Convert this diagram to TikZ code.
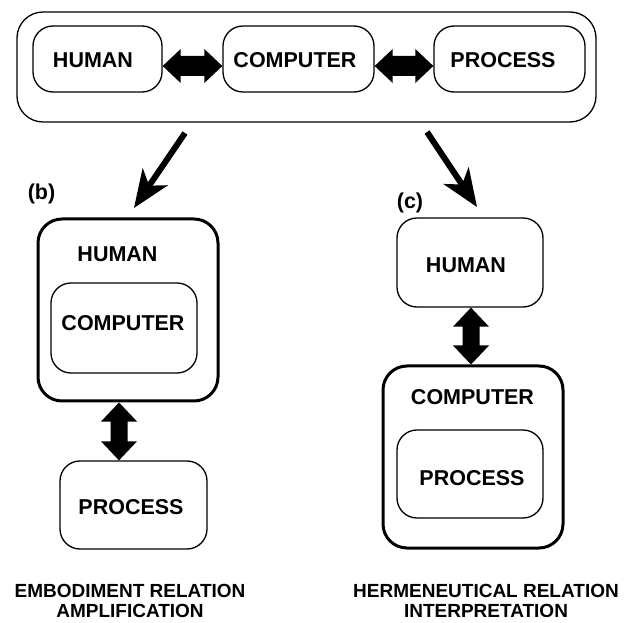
\documentclass[tikz,border=0pt]{standalone}
\usepackage{fontspec}
\setmainfont{Liberation Sans}
\usetikzlibrary{calc}
\tikzset{
  box/.style={draw, line width=1.3pt, rounded corners=20pt, inner sep=0pt},
  thickbox/.style={draw, line width=3pt, rounded corners=24pt, inner sep=0pt},
  lbl/.style={font=\bfseries\fontsize{21.5}{24}\selectfont, inner sep=0pt},
  captext/.style={font=\bfseries\fontsize{19}{20}\selectfont, align=center, inner sep=0pt},
}
% horizontal double arrow between #1.east and #2.west, lowered by #3
\newcommand{\hdbl}[3]{%
  \fill let \p1=(#1.east), \p2=(#2.west) in
    (\x1,\y1-#3) -- (\x1+18pt,\y1-#3+17pt) -- (\x1+18pt,\y1-#3+10pt) -- (\x2-18pt,\y1-#3+10pt) --
    (\x2-18pt,\y1-#3+17pt) -- (\x2,\y1-#3) -- (\x2-18pt,\y1-#3-17pt) -- (\x2-18pt,\y1-#3-10pt) --
    (\x1+18pt,\y1-#3-10pt) -- (\x1+18pt,\y1-#3-17pt) -- cycle;}
% vertical double arrow between #1.south and #2.north at x of coordinate #3
\newcommand{\vdbl}[3]{%
  \fill let \p1=(#1.south), \p2=(#2.north), \p3=(#3) in
    (\x3,\y1) -- (\x3+18pt,\y1-19pt) -- (\x3+8.5pt,\y1-19pt) -- (\x3+8.5pt,\y2+19pt) --
    (\x3+18pt,\y2+19pt) -- (\x3,\y2) -- (\x3-18pt,\y2+19pt) -- (\x3-8.5pt,\y2+19pt) --
    (\x3-8.5pt,\y1-19pt) -- (\x3-18pt,\y1-19pt) -- cycle;}
\newcommand{\bigarr}[2]{%
  \draw[line width=6pt] (#1) -- ($(#2)!24pt!(#1)$);
  \fill (#2) -- ($(#2)!41pt!22:(#1)$) -- ($(#2)!27pt!(#1)$) -- ($(#2)!41pt!-22:(#1)$) -- cycle;}
\begin{document}
\begin{tikzpicture}[x=1pt,y=-1pt]
\useasboundingbox (0,0) rectangle (625,623);
% top row
\node[box, rounded corners=26pt, minimum width=579pt, minimum height=110pt] (outer) at (306.5,67) {};
\node[box, minimum width=129pt, minimum height=66pt] (h1) at (97.5,59) {};
\node[lbl] (h1t) at (93,60) {HUMAN};
\node[box, minimum width=151pt, minimum height=66pt] (c1) at (298.5,59) {};
\node[lbl] (c1t) at (295,60.5) {COMPUTER};
\node[box, minimum width=151pt, minimum height=66pt] (p1) at (509.5,59) {};
\node[lbl] (p1t) at (503,60) {PROCESS};
\hdbl{h1}{c1}{7pt}
\hdbl{c1}{p1}{7pt}
% diagonal arrows
\coordinate (bt) at (185,133);
\coordinate (bh) at (134,208);
\coordinate (ct) at (427,132);
\coordinate (ch) at (477,207);
\bigarr{bt}{bh}
\bigarr{ct}{ch}
% (b)
\node[lbl] (blab) at (41.5,194) {(b)};
\node[thickbox, minimum width=180pt, minimum height=182pt] (hb) at (128,310) {};
\node[lbl] (hbt) at (117.5,254) {HUMAN};
\node[box, minimum width=146pt, minimum height=90pt] (cb) at (124,328) {};
\node[lbl] (cbt) at (123,323) {COMPUTER};
\node[box, minimum width=147pt, minimum height=88pt] (pb) at (133.5,505) {};
\node[lbl] (pbt) at (131,507) {PROCESS};
\coordinate (bx) at (119,0);
\vdbl{hb}{pb}{bx}
% (c)
\node[lbl] (clab) at (410,203) {(c)};
\node[box, minimum width=146pt, minimum height=89pt] (hc) at (470,262.5) {};
\node[lbl] (hct) at (466,265) {HUMAN};
\node[thickbox, minimum width=180pt, minimum height=182pt] (cc) at (473,457) {};
\node[lbl] (cct) at (472.5,397.5) {COMPUTER};
\node[box, minimum width=146pt, minimum height=88pt] (pc) at (470,474) {};
\node[lbl] (pct) at (472,478) {PROCESS};
\coordinate (cx) at (471,0);
\vdbl{hc}{cc}{cx}
% captions
\node[captext] (capb) at (130,601) {EMBODIMENT RELATION\\AMPLIFICATION};
\node[captext] (capc) at (486,601) {HERMENEUTICAL RELATION\\INTERPRETATION};
\end{tikzpicture}
\end{document}
